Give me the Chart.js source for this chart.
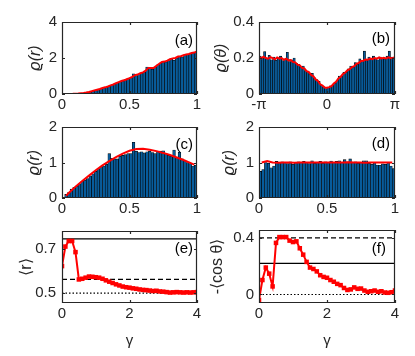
<!DOCTYPE html>
<html>
<head>
<meta charset="utf-8">
<script src="https://cdn.jsdelivr.net/npm/chart.js@4"></script>
<style>
  body { margin: 0; background: #fff; width: 415px; height: 356px; position: relative; overflow: hidden; }
  canvas { position: absolute; }
</style>
</head>
<body>
<canvas id="pa"></canvas>
<canvas id="pb"></canvas>
<canvas id="pc"></canvas>
<canvas id="pd"></canvas>
<canvas id="pe"></canvas>
<canvas id="pf"></canvas>
<script>
// ================= Data =================
const rBins = [0.01,0.03,0.05,0.07,0.09,0.11,0.13,0.15,0.17,0.19,0.21,0.23,0.25,0.27,0.29,0.31,0.33,0.35,0.37,0.39,
  0.41,0.43,0.45,0.47,0.49,0.51,0.53,0.55,0.57,0.59,0.61,0.63,0.65,0.67,0.69,0.71,0.73,0.75,0.77,0.79,
  0.81,0.83,0.85,0.87,0.89,0.91,0.93,0.95,0.97,0.99];

// (a)
const histA = [0,0,0.005,0.01,0.015,0.02,0.04,0.05,0.07,0.1,0.13,0.17,0.22,0.26,0.3,0.34,0.38,0.43,0.5,0.55,
  0.62,0.68,0.72,0.8,0.85,0.9,1.12,1.02,1.08,1.15,1.22,1.5,1.42,1.38,1.5,1.62,1.72,1.8,1.78,1.85,
  1.98,1.88,2.0,2.1,2.05,2.18,2.2,2.25,2.28,2.32];
const rLineA = [0,0.02,0.04,0.06,0.08,0.1,0.12,0.14,0.16,0.18,0.2,0.22,0.24,0.26,0.28,0.3,0.32,0.34,0.36,0.38,
  0.4,0.42,0.44,0.46,0.48,0.5,0.52,0.54,0.56,0.58,0.6,0.62,0.64,0.66,0.68,0.7,0.72,0.74,0.76,0.78,
  0.8,0.82,0.84,0.86,0.88,0.9,0.92,0.94,0.96,0.98,1.0];
const lineA = [0,0,0.003,0.006,0.01,0.02,0.03,0.045,0.06,0.08,0.11,0.15,0.2,0.24,0.28,0.33,0.37,0.42,0.48,0.53,
  0.6,0.66,0.72,0.76,0.82,0.88,0.95,1.05,1.08,1.15,1.2,1.3,1.45,1.45,1.45,1.57,1.68,1.78,1.8,1.85,
  1.93,1.98,2.0,2.08,2.1,2.15,2.2,2.22,2.28,2.3,2.37];

// (b)
const thBins = [-3.089,-2.985,-2.880,-2.775,-2.670,-2.566,-2.461,-2.356,-2.251,-2.147,-2.042,-1.937,-1.833,-1.728,-1.623,
  -1.518,-1.414,-1.309,-1.204,-1.100,-0.995,-0.890,-0.785,-0.681,-0.576,-0.471,-0.367,-0.262,-0.157,-0.052,
  0.052,0.157,0.262,0.367,0.471,0.576,0.681,0.785,0.890,0.995,1.100,1.204,1.309,1.414,1.518,
  1.623,1.728,1.833,1.937,2.042,2.147,2.251,2.356,2.461,2.566,2.670,2.775,2.880,2.985,3.089];
const histB = [0.21,0.2,0.235,0.2,0.215,0.19,0.205,0.188,0.2,0.21,0.185,0.195,0.232,0.18,0.19,0.2,0.17,0.165,0.15,0.155,
  0.13,0.128,0.11,0.115,0.09,0.08,0.07,0.05,0.04,0.03,0.035,0.045,0.05,0.06,0.075,0.1,0.1,0.12,0.12,0.14,
  0.155,0.15,0.175,0.165,0.195,0.18,0.238,0.19,0.205,0.195,0.21,0.2,0.19,0.205,0.2,0.195,0.21,0.238,0.205,0.2];
const thLine = [-3.142,-3.037,-2.932,-2.827,-2.723,-2.618,-2.513,-2.409,-2.304,-2.199,-2.094,-1.990,-1.885,-1.780,-1.676,
  -1.571,-1.466,-1.361,-1.257,-1.152,-1.047,-0.942,-0.838,-0.733,-0.628,-0.524,-0.419,-0.314,-0.209,-0.105,0,
  0.105,0.209,0.314,0.419,0.524,0.628,0.733,0.838,0.942,1.047,1.152,1.257,1.361,1.466,
  1.571,1.676,1.780,1.885,1.990,2.094,2.199,2.304,2.409,2.513,2.618,2.723,2.827,2.932,3.037,3.142];
const lineB = [0.205,0.198,0.207,0.2,0.196,0.205,0.199,0.193,0.203,0.196,0.2,0.19,0.196,0.187,0.189,0.178,0.176,0.163,0.159,0.145,
  0.142,0.127,0.122,0.106,0.098,0.081,0.072,0.054,0.047,0.036,0.035,
  0.038,0.044,0.058,0.068,0.086,0.095,0.111,0.118,0.131,0.138,0.15,0.155,0.168,0.172,0.183,0.185,0.192,0.19,0.197,0.194,
  0.2,0.196,0.203,0.198,0.201,0.197,0.204,0.2,0.199,0.205];

// (c)
const histC = [0.02,0.1,0.15,0.25,0.3,0.33,0.4,0.47,0.5,0.55,0.62,0.68,0.75,0.83,0.88,0.9,0.95,1.25,1.12,1.1,
  1.1,1.18,1.2,1.22,1.25,1.25,1.57,1.32,1.28,1.3,1.27,1.3,1.32,1.28,1.25,1.3,1.32,1.33,1.25,1.2,
  1.18,1.35,1.15,1.29,1.1,1.05,1.0,0.97,0.9,0.92];
const rLineC = [0.03,0.05,0.1,0.15,0.2,0.25,0.3,0.35,0.4,0.45,0.5,0.55,0.6,0.65,0.7,0.75,0.8,0.85,0.9,0.95,0.98];
const lineC = [0.06,0.14,0.32,0.48,0.63,0.78,0.92,1.04,1.15,1.25,1.33,1.38,1.39,1.36,1.32,1.27,1.21,1.14,1.07,0.99,0.94];

// (d)
const histD = [0.75,0.8,1.0,0.98,0.85,0.9,1.03,1.0,1.02,1.0,0.97,1.02,0.95,1.0,1.02,1.0,1.03,1.0,0.97,1.05,
  0.98,1.0,1.03,0.98,1.02,1.0,1.04,1.0,1.03,1.05,1.0,1.08,1.02,1.1,1.0,1.02,0.98,1.0,1.05,1.05,
  0.98,0.95,1.0,0.93,0.92,0.96,0.95,1.0,0.9,0.83];
const rLineD = [0.02,0.06,0.1,0.14,0.18,0.22,0.26,0.3,0.34,0.38,0.42,0.46,0.5,0.54,0.58,0.62,0.66,0.7,0.74,0.78,0.82,0.86,0.9,0.94,0.98];
const lineD = [1.0,1.04,1.0,0.99,1.0,1.0,0.99,1.0,1.0,1.0,1.0,1.0,1.0,1.0,1.0,1.0,1.01,1.0,1.0,0.99,1.0,1.0,1.0,1.0,1.0];

// (e), (f)
const gamma = [0,0.1,0.2,0.3,0.4,0.5,0.6,0.7,0.8,0.9,1.0,1.1,1.2,1.3,1.4,1.5,1.6,1.7,1.8,1.9,
  2.0,2.1,2.2,2.3,2.4,2.5,2.6,2.7,2.8,2.9,3.0,3.1,3.2,3.3,3.4,3.5,3.6,3.7,3.8,3.9,4.0];
const meanR = [0.622,0.71,0.735,0.735,0.685,0.562,0.565,0.57,0.575,0.574,0.572,0.57,0.565,0.558,0.552,0.546,0.54,0.535,0.53,0.527,
  0.525,0.522,0.52,0.517,0.515,0.514,0.512,0.51,0.511,0.508,0.507,0.505,0.503,0.504,0.505,0.504,0.503,0.504,0.503,0.504,0.505];
const negCos = [-0.039,0.102,0.19,0.147,0.057,0.364,0.405,0.405,0.405,0.38,0.37,0.375,0.326,0.281,0.23,0.19,0.18,0.163,0.136,0.124,
  0.118,0.102,0.09,0.075,0.066,0.046,0.032,0.036,0.05,0.04,0.042,0.028,0.019,0.023,0.028,0.019,0.023,0.014,0.012,0.016,0.028];
const levelsE = { solid: 0.745, dashed: 0.562, dotted: 0.5 };
const levelsF = { solid: 0.22, dashed: 0.4, dotted: 0 };

// ================= Ticks =================
const rTicks = [0, 0.5, 1], rTickLabels = ['0', '0.5', '1'];
const thTicks = [-Math.PI, 0, Math.PI], thTickLabels = ['-π', '0', 'π'];
const gTicks = [0, 2, 4], gTickLabels = ['0', '2', '4'];
const yTicksA = [0, 2, 4], yLabelsA = ['0', '2', '4'];
const yTicksB = [0, 0.2, 0.4], yLabelsB = ['0', '0.2', '0.4'];
const yTicksCD = [0, 1, 2], yLabelsCD = ['0', '1', '2'];
const yTicksE = [0.5, 0.7], yLabelsE = ['0.5', '0.7'];
const yTicksF = [0, 0.4], yLabelsF = ['0', '0.4'];

// ================= Defaults =================
const FONT = '"Liberation Sans", Arial, Helvetica, sans-serif';
Chart.defaults.font.family = FONT;
Chart.defaults.font.size = 15;
Chart.defaults.color = '#262626';
Chart.defaults.animation = false;
Chart.defaults.plugins.legend.display = false;
Chart.defaults.plugins.tooltip.enabled = false;

const RED = '#ff0000';
const BAR = '#075c9c';

// ================= Frame plugin (box, inward ticks, panel tag) =================
const frame = {
  id: 'frame',
  afterDatasetsDraw(chart, args, opts) {
    const { ctx, chartArea: a } = chart;
    const x = chart.scales.x, y = chart.scales.y;
    ctx.save();
    ctx.strokeStyle = '#262626';
    ctx.lineWidth = 1.2;
    ctx.beginPath();
    ctx.rect(a.left + 0.5, a.top + 0.5, a.right - a.left - 1, a.bottom - a.top - 1);
    x.ticks.forEach(t => {
      const px = Math.round(x.getPixelForValue(t.value)) + 0.5;
      ctx.moveTo(px, a.bottom); ctx.lineTo(px, a.bottom - 3);
      ctx.moveTo(px, a.top); ctx.lineTo(px, a.top + 3);
    });
    y.ticks.forEach(t => {
      const py = Math.round(y.getPixelForValue(t.value)) + 0.5;
      ctx.moveTo(a.left, py); ctx.lineTo(a.left + 3, py);
      ctx.moveTo(a.right, py); ctx.lineTo(a.right - 3, py);
    });
    ctx.stroke();
    ctx.fillStyle = '#000';
    ctx.font = '15px ' + FONT;
    ctx.textAlign = 'right';
    ctx.textBaseline = 'middle';
    ctx.fillText(opts.tag, a.right - opts.dx, a.top + opts.dy);
    ctx.restore();
  }
};

// ================= Helpers =================
function pts(xs, ys) {
  return xs.map((x, i) => ({ x: x, y: ys[i] }));
}

function place(id, box) {
  const c = document.getElementById(id);
  const W = Math.round(box.L - box.titleX + 11);
  c.width = W + (box.R - box.L) + 10;
  c.height = 10 + (box.B - box.T) + box.H;
  c.style.left = (box.L - W) + 'px';
  c.style.top = (box.T - 10) + 'px';
  return { c: c, W: W };
}

function scales(box, W, xs, ys) {
  return {
    x: {
      type: 'linear', min: xs.min, max: xs.max, offset: false,
      grid: { display: false, drawTicks: false }, border: { display: false },
      afterBuildTicks: s => { s.ticks = xs.ticks.map(v => ({ value: v })); },
      afterFit: s => { s.height = box.H; },
      ticks: { padding: 2, maxRotation: 0, autoSkip: false, callback: (v, i) => xs.labels[i] },
      title: xs.title
        ? { display: true, text: xs.title, padding: { top: 0, bottom: 1 } }
        : { display: false }
    },
    y: {
      type: 'linear', min: ys.min, max: ys.max,
      grid: { display: false, drawTicks: false }, border: { display: false },
      afterBuildTicks: s => { s.ticks = ys.ticks.map(v => ({ value: v })); },
      afterFit: s => { s.width = W; },
      ticks: { padding: box.tp || 5, autoSkip: false, callback: (v, i) => ys.labels[i] },
      title: { display: true, text: ys.title, padding: { top: 2, bottom: 0 },
        font: { size: 16, style: ys.italic ? 'italic' : 'normal' } }
    }
  };
}

function histPanel(id, box, bins, counts, lx, ly, xs, ys, tag) {
  const p = place(id, box);
  new Chart(p.c, {
    type: 'bar',
    data: {
      datasets: [
        { type: 'line', data: pts(lx, ly), borderColor: RED, borderWidth: 2, pointRadius: 0, tension: 0 },
        { type: 'bar', data: pts(bins, counts), backgroundColor: BAR, borderColor: '#000000', borderWidth: 0.6,
          barThickness: 'flex', categoryPercentage: 1, barPercentage: 1 }
      ]
    },
    options: {
      responsive: false,
      layout: { padding: { top: 10, right: 10, left: 0, bottom: 0 } },
      scales: scales(box, p.W, xs, ys),
      plugins: { frame: tag }
    },
    plugins: [frame]
  });
}

function level(v, dash) {
  return { data: [{ x: 0, y: v }, { x: 4, y: v }], borderColor: '#000', borderWidth: 1.2,
    borderDash: dash, pointRadius: 0 };
}

function gammaPanel(id, box, ys, series, lv, tag) {
  const p = place(id, box);
  new Chart(p.c, {
    type: 'line',
    data: {
      datasets: [
        { data: pts(gamma, series), borderColor: RED, backgroundColor: RED, borderWidth: 2,
          pointStyle: 'rect', pointRadius: 3.2, pointBorderWidth: 0, tension: 0 },
        level(lv.solid, []),
        level(lv.dashed, [5, 3]),
        level(lv.dotted, [1.5, 2])
      ]
    },
    options: {
      responsive: false,
      layout: { padding: { top: 10, right: 10, left: 0, bottom: 0 } },
      scales: scales(box, p.W, { min: 0, max: 4, ticks: gTicks, labels: gTickLabels, title: 'γ' }, ys),
      plugins: { frame: tag }
    },
    plugins: [frame]
  });
}

// ================= Panels =================
histPanel('pa', { L: 62, T: 18, R: 197, B: 94, titleX: 35, H: 24 }, rBins, histA, rLineA, lineA,
  { min: 0, max: 1, ticks: rTicks, labels: rTickLabels },
  { min: 0, max: 4, ticks: yTicksA, labels: yLabelsA, title: 'ϱ(r)', italic: true },
  { tag: '(a)', dx: 4, dy: 19 });

histPanel('pb', { L: 259, T: 18, R: 395, B: 94, titleX: 221, H: 24 }, thBins, histB, thLine, lineB,
  { min: -Math.PI, max: Math.PI, ticks: thTicks, labels: thTickLabels },
  { min: 0, max: 0.4, ticks: yTicksB, labels: yLabelsB, title: 'ϱ(θ)', italic: true },
  { tag: '(b)', dx: 5, dy: 17 });

histPanel('pc', { L: 62, T: 123, R: 197, B: 198, titleX: 34, H: 24 }, rBins, histC, rLineC, lineC,
  { min: 0, max: 1, ticks: rTicks, labels: rTickLabels },
  { min: 0, max: 2, ticks: yTicksCD, labels: yLabelsCD, title: 'ϱ(r)', italic: true },
  { tag: '(c)', dx: 4, dy: 18 });

histPanel('pd', { L: 259, T: 123, R: 395, B: 198, titleX: 229, H: 24 }, rBins, histD, rLineD, lineD,
  { min: 0, max: 1, ticks: rTicks, labels: rTickLabels },
  { min: 0, max: 2, ticks: yTicksCD, labels: yLabelsCD, title: 'ϱ(r)', italic: true },
  { tag: '(d)', dx: 5, dy: 17 });

gammaPanel('pe', { L: 62, T: 226, R: 197, B: 303, titleX: 26, H: 48, tp: 6 },
  { min: 0.456, max: 0.78, ticks: yTicksE, labels: yLabelsE, title: '⟨r⟩' },
  meanR, levelsE, { tag: '(e)', dx: 4, dy: 18 });

gammaPanel('pf', { L: 259, T: 226, R: 395, B: 303, titleX: 217, H: 48 },
  { min: -0.06, max: 0.455, ticks: yTicksF, labels: yLabelsF, title: '-⟨cos θ⟩' },
  negCos, levelsF, { tag: '(f)', dx: 9, dy: 19 });
</script>
</body>
</html>
